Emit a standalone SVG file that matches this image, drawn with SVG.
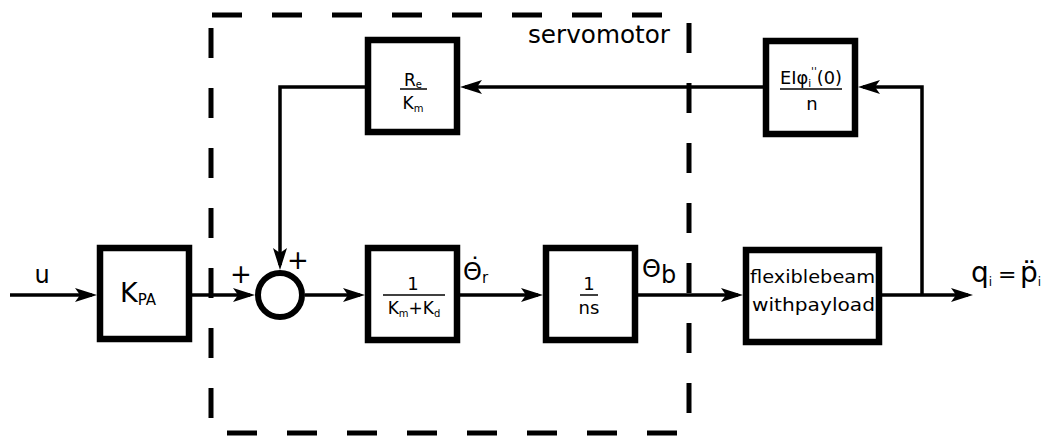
<svg xmlns="http://www.w3.org/2000/svg" width="1042" height="436" viewBox="0 0 1042 436">
<style>
.box{fill:#fff;stroke:#000;stroke-width:6.5}
.ln{fill:none;stroke:#000;stroke-width:3.5}
.dash{fill:none;stroke:#000;stroke-width:5;stroke-dasharray:30 30}
.fr{stroke:#000;stroke-width:1.5}
text{font-family:"DejaVu Sans","Liberation Sans",sans-serif;fill:#000}
.c{text-anchor:middle}
</style>
<defs>
<marker id="ar" markerUnits="userSpaceOnUse" markerWidth="24" markerHeight="16" refX="17" refY="7" orient="auto">
<path d="M0,0 L22,7 L0,14 L5,7 Z" fill="#000"/>
</marker>
</defs>
<g id="servomotor-boundary">
<path class="dash" d="M212,15 H664"/>
<path class="dash" d="M211,28 V436"/>
<path class="dash" d="M689,23 V436"/>
<path class="dash" d="M227,433 H690"/>
<text x="528" y="43" font-size="25" textLength="142" lengthAdjust="spacingAndGlyphs">servomotor</text>
</g>
<g id="connectors">
<path class="ln" d="M10,295 H92" marker-end="url(#ar)"/>
<path class="ln" d="M192,295 H250" marker-end="url(#ar)"/>
<path class="ln" d="M305,295 H360" marker-end="url(#ar)"/>
<path class="ln" d="M460,295 H538" marker-end="url(#ar)"/>
<path class="ln" d="M638,295 H738" marker-end="url(#ar)"/>
<path class="ln" d="M882,295 H968" marker-end="url(#ar)"/>
<path class="ln" d="M922,295 V87 H863" marker-end="url(#ar)"/>
<path class="ln" d="M763,87 H465" marker-end="url(#ar)"/>
<path class="ln" d="M365,87 H280 V265" marker-end="url(#ar)"/>
</g>
<g id="input-u">
<text x="42" y="283" font-size="24" class="c">u</text>
</g>
<g id="kpa">
<rect class="box" x="100" y="248" width="89" height="91"/>
<text x="120" y="302" font-size="27">K<tspan font-size="15" dy="3">PA</tspan></text>
</g>
<g id="sum">
<circle cx="280" cy="295" r="22" fill="#fff" stroke="#000" stroke-width="6"/>
<text x="241" y="283" font-size="26" class="c">+</text>
<text x="298" y="269" font-size="26" class="c">+</text>
</g>
<g id="re-km">
<rect class="box" x="368" y="40" width="89" height="92"/>
<text x="413" y="86" font-size="17" class="c">R<tspan font-size="10" dy="2">e</tspan></text>
<line class="fr" x1="400" y1="89" x2="427" y2="89"/>
<text x="413" y="109" font-size="17" class="c">K<tspan font-size="10" dy="3">m</tspan></text>
</g>
<g id="ei-phi">
<rect class="box" x="766" y="41" width="89" height="93"/>
<text x="780" y="84" font-size="17" textLength="62" lengthAdjust="spacingAndGlyphs">EIφ<tspan font-size="10" dy="3">i</tspan><tspan font-size="10" dy="-12">''</tspan><tspan dy="9">(0)</tspan></text>
<line class="fr" x1="780" y1="89" x2="842" y2="89"/>
<text x="812" y="110" font-size="18" class="c">n</text>
</g>
<g id="motor-gain">
<rect class="box" x="368" y="248" width="89" height="92"/>
<text x="413" y="290" font-size="18" class="c">1</text>
<line class="fr" x1="383" y1="295" x2="445" y2="295"/>
<text x="414" y="314" font-size="17" class="c">K<tspan font-size="10" dy="3">m</tspan><tspan dy="-3">+</tspan>K<tspan font-size="10" dy="3">d</tspan></text>
</g>
<g id="integrator">
<rect class="box" x="546" y="248" width="89" height="92"/>
<text x="589" y="290" font-size="18" class="c">1</text>
<line class="fr" x1="580" y1="295" x2="598" y2="295"/>
<text x="589" y="314" font-size="18" class="c">ns</text>
</g>
<g id="theta-r">
<text font-size="24"><tspan x="469" y="275">˙</tspan><tspan x="463" y="280">Θ</tspan><tspan font-size="15" dy="3">r</tspan></text>
</g>
<g id="theta-b">
<text x="642" y="277" font-size="24">Θ<tspan dy="6">b</tspan></text>
</g>
<g id="beam">
<rect class="box" x="746" y="250" width="133" height="92"/>
<text x="750" y="283" font-size="18" textLength="125" lengthAdjust="spacingAndGlyphs">flexiblebeam</text>
<text x="752" y="311" font-size="18" textLength="123" lengthAdjust="spacingAndGlyphs">withpayload</text>
</g>
<g id="output">
<text x="971" y="282" font-size="28">q<tspan font-size="12" dy="4">i</tspan><tspan x="998" dy="-4" font-size="22">=</tspan><tspan x="1020" font-size="28">p̈</tspan><tspan font-size="12" dy="4">i</tspan></text>
</g>
</svg>
